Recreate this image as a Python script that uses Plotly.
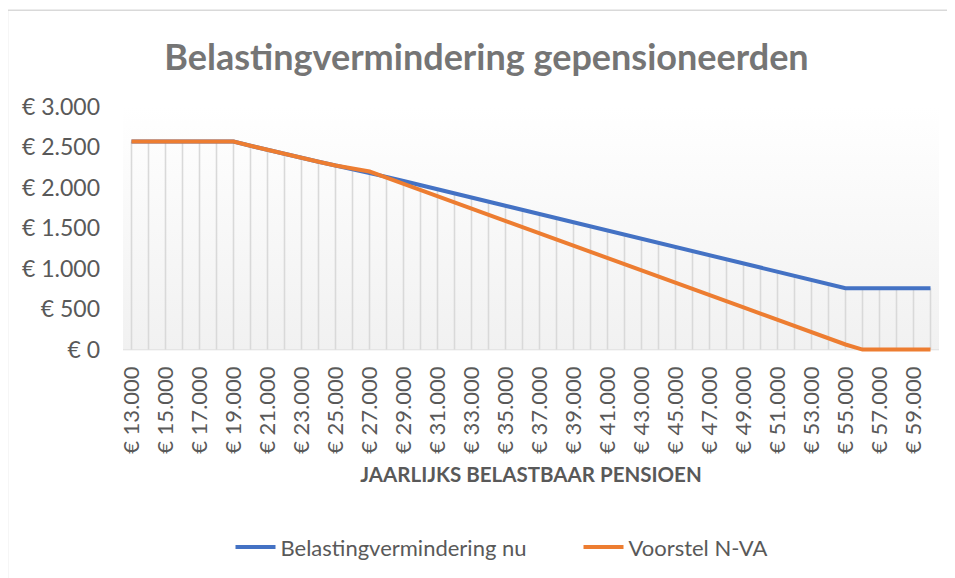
import plotly.graph_objects as go

# ---- data ----
income_k = list(range(13, 61))  # thousands of euro
categories = ["€ %d.000" % k for k in income_k]

belasting_nu = [2572, 2572, 2572, 2572, 2572, 2572, 2572, 2520, 2468, 2416,
                2369, 2322, 2276, 2232, 2187, 2136, 2085, 2034, 1983, 1932,
                1881, 1830, 1779, 1728, 1677, 1626, 1575, 1524, 1473, 1422,
                1371, 1320, 1269, 1218, 1167, 1116, 1065, 1014, 963, 912,
                861, 810, 759, 759, 759, 759, 759, 759]

voorstel_nva = [2572, 2572, 2572, 2572, 2572, 2572, 2572, 2520, 2468, 2416,
                2369, 2322, 2276, 2239, 2202, 2126, 2049, 1973, 1896, 1820,
                1744, 1667, 1591, 1514, 1438, 1362, 1285, 1209, 1132, 1056,
                980, 903, 827, 750, 674, 598, 521, 445, 368, 292,
                216, 139, 63, 0, 0, 0, 0, 0]

y_tickvals = [0, 500, 1000, 1500, 2000, 2500, 3000]
y_ticktext = ["€ 0", "€ 500", "€ 1.000", "€ 1.500", "€ 2.000", "€ 2.500", "€ 3.000"]
x_tickvals = categories[::2]

title_text = "Belastingvermindering gepensioneerden"
x_title = "JAARLIJKS BELASTBAAR PENSIOEN"

FONT = "Lato"
OFF = 8  # page body margin
W, H = 955 - OFF, 578 - OFF
Y_MIN, Y_MAX = -30, 3000
PX_PER_EUR = (350 - 107) / 3000.0
BOTTOM = 350 + (0 - Y_MIN) * PX_PER_EUR  # page px of plot-area bottom
# plot area in page pixels: x 123..939, y 107..BOTTOM
ML, MT = 123 - OFF, 107 - OFF
MR, MB = W - (939 - OFF), H - (BOTTOM - OFF)
PW, PH = W - ML - MR, H - MT - MB


def px(x):
    return (x - OFF - ML) / PW


def py(y):
    return (MT + PH - (y - OFF)) / PH


drop_top = [max(a, b) for a, b in zip(belasting_nu, voorstel_nva)]

fig = go.Figure()

# plot-area gradient background (base axis, hidden)
fig.add_trace(go.Scatter(
    x=[0, 1], y=[3000, 3000], xaxis="x", mode="lines",
    line=dict(width=0), fill="tozeroy",
    fillgradient=dict(type="vertical",
                      colorscale=[[0, "#f1f1f1"], [1, "#ffffff"]]),
    hoverinfo="skip", showlegend=False))

# drop lines
fig.add_trace(go.Scatter(
    x=categories, y=drop_top, xaxis="x2", mode="markers",
    marker=dict(size=1, color="rgba(0,0,0,0)"),
    error_y=dict(type="data", symmetric=False, array=[0] * len(drop_top),
                 arrayminus=drop_top, color="#d9d9d9", thickness=1.6, width=0),
    hoverinfo="skip", showlegend=False))

fig.add_trace(go.Scatter(
    x=categories, y=belasting_nu, xaxis="x2", mode="lines", name="Belastingvermindering nu",
    line=dict(color="#4472C4", width=4)))
fig.add_trace(go.Scatter(
    x=categories, y=voorstel_nva, xaxis="x2", mode="lines", name="Voorstel N-VA",
    line=dict(color="#ED7D31", width=4)))

fig.update_layout(
    width=W, height=H,
    margin=dict(l=ML, r=MR, t=MT, b=MB, autoexpand=False),
    paper_bgcolor="white", plot_bgcolor="rgba(0,0,0,0)",
    font=dict(family=FONT, color="#595959"),
    title=dict(text="<b>%s</b>" % title_text, font=dict(size=36, color="#757575", family=FONT),
               x=(486.5 - OFF) / W, xref="container", xanchor="center",
               y=1 - (57 - OFF) / H, yref="container", yanchor="middle"),
    xaxis=dict(range=[0, 1], visible=False, showgrid=False, zeroline=False),
    xaxis2=dict(overlaying="x", type="category", categoryorder="array", categoryarray=categories,
                range=[-0.5, len(categories) - 0.5],
                tickmode="array", tickvals=x_tickvals, ticktext=x_tickvals,
                tickangle=-90, tickfont=dict(size=22, color="#595959", family=FONT),
                showgrid=False, zeroline=False, showline=False,
                ticks="", ticklabelstandoff=9, side="bottom",
                title=dict(text="<b>%s</b>" % x_title,
                           font=dict(size=20.5, color="#595959", family=FONT),
                           standoff=14)),
    yaxis=dict(range=[Y_MIN, Y_MAX], tickmode="array", tickvals=y_tickvals, ticktext=y_ticktext,
               tickfont=dict(size=23, color="#595959", family=FONT),
               showgrid=False, zeroline=False, showline=False, ticks="",
               ticklabelstandoff=22),
    legend=dict(orientation="h", x=px(578.5), xanchor="center",
                y=py(548), yanchor="middle",
                font=dict(size=22, color="#595959", family=FONT),
                bgcolor="rgba(0,0,0,0)", itemwidth=40, entrywidth=293),
    shapes=[
        dict(type="rect", xref="paper", yref="paper",
             x0=px(7.5), x1=px(970), y0=py(600), y1=py(10),
             line=dict(color="#d9d9d9", width=1.5), fillcolor="rgba(0,0,0,0)",
             layer="below"),
        # category axis line at zero
        dict(type="line", xref="paper", yref="y", x0=0, x1=1, y0=0, y1=0,
             line=dict(color="#d9d9d9", width=1.5), layer="below"),
    ],
)

fig.write_html("out.html")
